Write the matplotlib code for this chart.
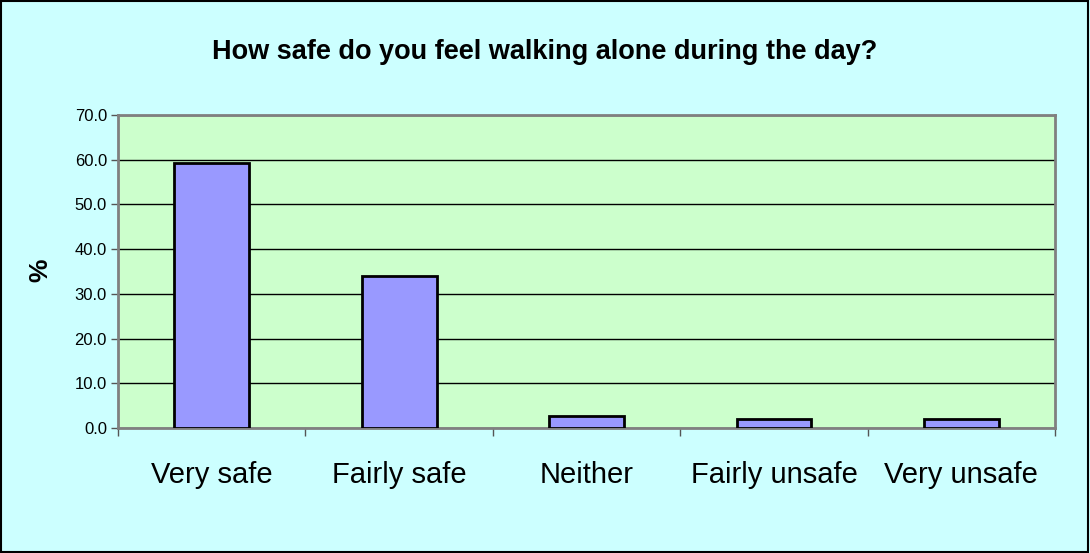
import numpy as np
import matplotlib
matplotlib.use('Agg')
import matplotlib.pyplot as plt
from matplotlib.patches import Rectangle

# 数据
categories = ['Very safe', 'Fairly safe', 'Neither', 'Fairly unsafe', 'Very unsafe']
values = [59.2, 34.0, 2.8, 2.1, 2.1]
yticks = [0, 10, 20, 30, 40, 50, 60, 70]

plt.rcParams['font.family'] = ['Liberation Sans', 'DejaVu Sans']

fig = plt.figure(figsize=(10.9, 5.53), dpi=100, facecolor='#CCFFFF')
ax = fig.add_axes([0.1083, 0.226, 0.8597, 0.566])
ax.set_facecolor('#CCFFCC')

x = np.arange(len(categories))
ax.bar(x, values, width=0.4, color='#9999FF', edgecolor='black', linewidth=2, zorder=3)

ax.set_xlim(-0.5, len(categories) - 0.5)
ax.set_ylim(0, 70)
ax.set_yticks(yticks)
ax.set_yticklabels([f'{v:.1f}' for v in yticks], fontsize=12)
ax.yaxis.grid(True, color='black', linewidth=1, zorder=1)
ax.set_axisbelow(True)

# x轴刻度在类别边界
ax.set_xticks(x)
ax.set_xticklabels(categories, fontsize=21)
ax.set_xticks(np.arange(len(categories) + 1) - 0.5, minor=True)
ax.tick_params(axis='x', which='major', length=0, pad=24)
ax.tick_params(axis='x', which='minor', length=6, color='#555555', width=1)
ax.tick_params(axis='y', length=5, color='#555555', width=1, pad=3)

for s in ax.spines.values():
    s.set_color('#808080')
    s.set_linewidth(2)

fig.text(40 / 1090, 1 - 270 / 553, '%', rotation=90, ha='center', va='center',
         fontsize=19, fontweight='bold')
fig.text(0.5, 1 - 52 / 553, 'How safe do you feel walking alone during the day?',
         ha='center', va='center', fontsize=19.5, fontweight='bold')

# 外框
fig.patches.append(Rectangle((0.001, 0.002), 0.997, 0.996, transform=fig.transFigure,
                             fill=False, edgecolor='black', linewidth=1.5))

fig.savefig('out.png', dpi=100, facecolor=fig.get_facecolor())
